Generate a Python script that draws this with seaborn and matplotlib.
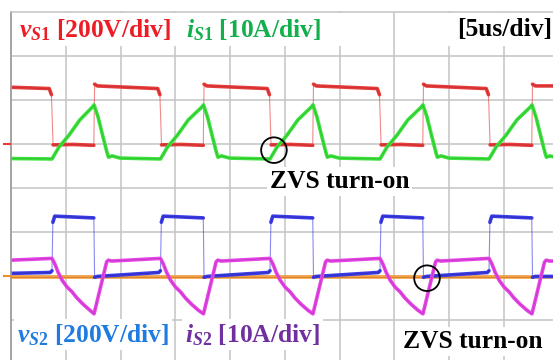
import numpy as np
import pandas as pd
import seaborn as sns
import matplotlib.pyplot as plt
from matplotlib.patches import Rectangle

# switching instants (us)
t_fall = [3.74, 13.64, 23.64, 33.68, 43.63]   # vS1 falls / vS2 rises
t_rise = [7.58, 17.57, 27.56, 37.60, 47.55]   # vS1 rises / vS2 falls
t_end = 49.47

# trace levels in screen divisions (0 = bottom of picture, 8 = top border)
# one period per trace: (anchor edge, offset in us, level, starts new plateau)
vs1_start = (0.0, 6.29)
vs1_shape = [("f", -0.25, 6.26, 0), ("f", -0.05, 6.12, 0), ("f", 0.10, 4.98, 1),
             ("f", 1.90, 4.99, 0), ("r", -0.02, 4.97, 0), ("r", 0.05, 6.36, 1),
             ("r", 0.30, 6.32, 0)]

is1_start = (0.0, 4.67)
is1_shape = [("f", 0.00, 4.66, 0), ("f", 0.64, 4.93, 0), ("f", 1.55, 5.20, 0),
             ("f", 2.55, 5.55, 0), ("r", -0.15, 5.84, 0), ("r", 0.00, 5.89, 0),
             ("r", 0.37, 5.61, 0), ("r", 0.82, 5.16, 0), ("r", 1.19, 4.80, 0),
             ("r", 1.32, 4.70, 0), ("r", 1.64, 4.73, 0), ("r", 2.37, 4.68, 0)]

vs2_start = (0.0, 2.06)
vs2_shape = [("f", -0.15, 2.08, 0), ("f", 0.00, 2.12, 0), ("f", 0.08, 3.22, 1),
             ("f", 0.25, 3.36, 0), ("r", -0.02, 3.32, 0), ("r", 0.05, 1.97, 1),
             ("r", 0.30, 1.99, 0)]

is2_start = (0.0, 2.36)
is2_shape = [("f", 0.00, 2.40, 0), ("f", 0.27, 2.27, 0), ("f", 0.55, 2.09, 0),
             ("f", 0.91, 1.91, 0), ("f", 1.37, 1.75, 0), ("f", 1.83, 1.64, 0),
             ("f", 2.28, 1.50, 0), ("f", 2.83, 1.36, 0), ("f", 3.47, 1.22, 0),
             ("r", 0.00, 1.14, 0), ("r", 1.15, 2.32, 0), ("r", 1.30, 2.36, 0),
             ("r", 1.60, 2.34, 0)]

# flat orange trace
ch5_t = [0.0, t_end]
ch5_v = [1.97, 1.97]

# channel ground markers on the left edge (level, colour)
gnd_v = [5.0, 2.0]
gnd_c = ["#e63c3c", "#f08a30"]

# ZVS circles (time, level)
zvs_t = [24.0, 37.97]
zvs_v = [4.86, 1.95]


def trace(start, shape):
    rows = [(start[0], start[1], 0)]
    seg = 0
    for tf, tr in zip(t_fall, t_rise):
        for anchor, dt, v, new in shape:
            seg += new
            rows.append(((tf if anchor == "f" else tr) + dt, v, seg))
    if rows[-1][0] < t_end:
        rows.append((t_end, rows[-1][1], seg))
    return pd.DataFrame(rows, columns=["t", "v", "seg"])


vs1 = trace(vs1_start, vs1_shape)
is1 = trace(is1_start, is1_shape)
vs2 = trace(vs2_start, vs2_shape)
is2 = trace(is2_start, is2_shape)
ch5 = pd.DataFrame({"t": ch5_t, "v": ch5_v, "seg": 0})

sns.set_style("white")
plt.rcParams["font.family"] = ["Liberation Serif", "DejaVu Serif"]
plt.rcParams["mathtext.fontset"] = "custom"
plt.rcParams["mathtext.it"] = "Liberation Serif:italic:bold"
plt.rcParams["mathtext.rm"] = "Liberation Serif:bold"
plt.rcParams["mathtext.bf"] = "Liberation Serif:bold"

W, H = 553, 360
fig = plt.figure(figsize=(W / 100, H / 100), dpi=100)
ax = fig.add_axes([11 / W, 0, 542 / W, 348 / H])
ax.set_xlim(0, t_end)
ax.set_ylim(8 - 348 / 44, 8)

ax.set_xticks(np.arange(5, 50, 5))
ax.set_yticks(np.arange(1, 8))
ax.tick_params(length=0, labelbottom=False, labelleft=False)
ax.grid(True, color="#c4c4c4", lw=1.1)
ax.set_axisbelow(True)
for side in ["right", "bottom"]:
    ax.spines[side].set_visible(False)
ax.spines["left"].set_color("#9c9c9c")
ax.spines["left"].set_linewidth(1.3)
ax.spines["top"].set_color("#c4c4c4")
ax.spines["top"].set_linewidth(1.1)

# white label bands at the top of the screen
px = 1 / 10.956
ax.add_patch(Rectangle((0.1, 8 - 34 / 44), 334 * px, 33 / 44, fc="white", ec="none", zorder=1))
ax.add_patch(Rectangle((437 * px, 8 - 34 / 44), 110 * px, 33 / 44, fc="white", ec="none", zorder=1))

thick = 2.6
traces = [
    (ch5, "#f5a043", "#c0701c", False),
    (vs1, "#e63c3c", "#b82424", True),
    (is1, "#3ee23e", "#22aa22", False),
    (vs2, "#3c3ce6", "#2424a8", True),
    (is2, "#e646e6", "#b428b4", False),
]
for df, col, core, edges in traces:
    if edges:
        # fast switching edges show up thin and faint on the scope
        sns.lineplot(data=df, x="t", y="v", color=col, lw=0.8, alpha=0.6,
                     estimator=None, sort=False, ax=ax)
    for _, part in df.groupby("seg"):
        sns.lineplot(data=part, x="t", y="v", color=col, lw=thick,
                     estimator=None, sort=False, ax=ax)
        sns.lineplot(data=part, x="t", y="v", color=core, lw=0.7, alpha=0.55,
                     estimator=None, sort=False, ax=ax)

ax.scatter([-0.35] * len(gnd_v), gnd_v, marker="_", s=30, c=gnd_c, linewidths=1.5,
           clip_on=False, zorder=5)
ax.scatter(zvs_t, zvs_v, s=340, facecolors="none", edgecolors="black", linewidths=1.3, zorder=5)
ax.set_xlabel("")
ax.set_ylabel("")


def fx(x):
    return x / W


def fy(y):
    return 1 - y / H


fs = 18.4
fig.text(fx(19), fy(37), r"$\mathit{v}_{\mathit{S1}}$ [200V/div]", color="#ee1c25",
         fontsize=fs, fontweight="bold", va="baseline")
fig.text(fx(186), fy(37), r"$\mathit{i}_{\mathit{S1}}$ [10A/div]", color="#12b04c",
         fontsize=fs, fontweight="bold", va="baseline")
fig.text(fx(457), fy(36), "[5us/div]", color="black", fontsize=fs, fontweight="bold", va="baseline")

box = dict(fc="white", ec="none", pad=2)
fig.text(fx(270), fy(188), "ZVS turn-on", color="black", fontsize=fs, fontweight="bold",
         va="baseline", bbox=box)
fig.text(fx(17), fy(342), r"$\mathit{v}_{\mathit{S2}}$ [200V/div]", color="#1e7be0",
         fontsize=fs, fontweight="bold", va="baseline", bbox=box)
fig.text(fx(185), fy(342), r"$\mathit{i}_{\mathit{S2}}$ [10A/div]", color="#7030a0",
         fontsize=fs, fontweight="bold", va="baseline", bbox=box)
fig.text(fx(403), fy(348), "ZVS turn-on", color="black", fontsize=fs, fontweight="bold",
         va="baseline", bbox=box)

fig.savefig("out.png", dpi=100)
